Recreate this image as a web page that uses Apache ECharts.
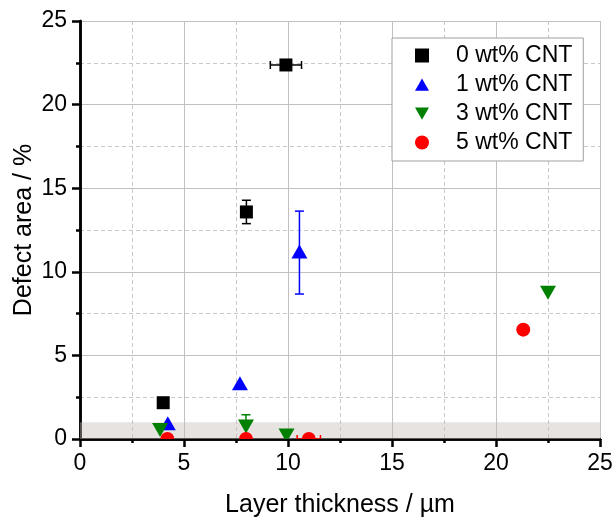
<!DOCTYPE html>
<html>
<head>
<meta charset="utf-8">
<script src="https://cdn.jsdelivr.net/npm/echarts@6/dist/echarts.min.js"></script>
<style>
  html, body { margin: 0; padding: 0; background: #fff; }
  #chart { width: 616px; height: 517px; }
</style>
</head>
<body>
<div id="chart"></div>
<script>
// series names
var seriesNames = ['0 wt% CNT', '1 wt% CNT', '3 wt% CNT', '5 wt% CNT'];

// 0 wt% CNT
var cnt0X = [4.0, 8.0, 9.9];
var cnt0Y = [2.17, 13.58, 22.37];
var cnt0XErr = [0, 0, 0.75];
var cnt0YErr = [0, 0.7, 0];

// 1 wt% CNT
var cnt1X = [4.22, 7.69, 10.55];
var cnt1Y = [0.88, 3.28, 11.15];
var cnt1XErr = [0, 0, 0];
var cnt1YErr = [0, 0, 2.48];

// 3 wt% CNT
var cnt3X = [3.85, 7.98, 9.93, 22.5];
var cnt3Y = [0.6, 0.8, 0.27, 8.8];
var cnt3XErr = [0, 0, 0, 0];
var cnt3YErr = [0, 0.65, 0, 0];

// 5 wt% CNT
var cnt5X = [4.2, 7.98, 11.0, 21.31];
var cnt5Y = [0, 0, 0, 6.54];
var cnt5XErr = [0, 0, 0.56, 0];
var cnt5YErr = [0, 0, 0, 0];

// shaded band (y range)
var bandY = [0, 1];

var xTicks = [0, 5, 10, 15, 20, 25];

var font = "'Liberation Sans', Arial, sans-serif";

function zip(xs, ys, xe, ye) {
    var out = [];
    for (var i = 0; i < xs.length; i++) {
        out.push([xs[i], ys[i], xe[i], ye[i]]);
    }
    return out;
}

// draws error bars + marker for one point
function makeRender(shape, color) {
    return function (params, api) {
        var x = api.value(0), y = api.value(1);
        var xe = api.value(2), ye = api.value(3);
        var c = api.coord([x, y]);
        var kids = [];
        var ls = { stroke: color, lineWidth: 1.5 };
        if (ye > 0) {
            var t = api.coord([x, y + ye]);
            var b = api.coord([x, y - ye]);
            kids.push({ type: 'line', shape: { x1: c[0], y1: t[1], x2: c[0], y2: b[1] }, style: ls });
            kids.push({ type: 'line', shape: { x1: c[0] - 4.5, y1: t[1], x2: c[0] + 4.5, y2: t[1] }, style: ls });
            kids.push({ type: 'line', shape: { x1: c[0] - 4.5, y1: b[1], x2: c[0] + 4.5, y2: b[1] }, style: ls });
        }
        if (xe > 0) {
            var l = api.coord([x - xe, y]);
            var r = api.coord([x + xe, y]);
            kids.push({ type: 'line', shape: { x1: l[0], y1: c[1], x2: r[0], y2: c[1] }, style: ls });
            kids.push({ type: 'line', shape: { x1: l[0], y1: c[1] - 4, x2: l[0], y2: c[1] + 4 }, style: ls });
            kids.push({ type: 'line', shape: { x1: r[0], y1: c[1] - 4, x2: r[0], y2: c[1] + 4 }, style: ls });
        }
        var fill = { fill: color };
        if (shape === 'square') {
            kids.push({ type: 'rect', shape: { x: c[0] - 6.5, y: c[1] - 6.5, width: 13, height: 13 }, style: fill });
        } else if (shape === 'up') {
            kids.push({ type: 'polygon', shape: { points: [[c[0], c[1] - 8], [c[0] + 8, c[1] + 6], [c[0] - 8, c[1] + 6]] }, style: fill });
        } else if (shape === 'down') {
            kids.push({ type: 'polygon', shape: { points: [[c[0] - 8, c[1] - 6], [c[0] + 8, c[1] - 6], [c[0], c[1] + 8]] }, style: fill });
        } else {
            kids.push({ type: 'circle', shape: { cx: c[0], cy: c[1], r: 7 }, style: fill });
        }
        return { type: 'group', children: kids };
    };
}

function bandRender(params, api) {
    var p0 = api.coord([0, bandY[0]]);
    var p1 = api.coord([25, bandY[1]]);
    return {
        type: 'rect',
        shape: { x: p0[0], y: p1[1], width: p1[0] - p0[0], height: p0[1] - p1[1] },
        style: { fill: 'rgba(196,188,180,0.42)' }
    };
}

var axisLineStyle = { color: '#000', width: 2.5 };

var myChart = echarts.init(document.getElementById('chart'));
myChart.setOption({
    animation: false,
    textStyle: { fontFamily: font },
    grid: { left: 80, right: 16, top: 21, bottom: 78, outerBoundsMode: 'none' },
    legend: {
        orient: 'vertical',
        left: 392,
        top: 38,
        padding: [6, 11, 7, 23],
        itemGap: 6,
        itemWidth: 14,
        itemHeight: 14,
        backgroundColor: '#fff',
        borderColor: '#a0a0a0',
        borderWidth: 1,
        z: 10,
        textStyle: { fontSize: 23, color: '#000', fontFamily: font, lineHeight: 23, padding: [0, 0, 0, 22] },
        data: [
            { name: seriesNames[0], icon: 'path://M0,0L13,0L13,13L0,13Z' },
            { name: seriesNames[1], icon: 'path://M8,0L16,14L0,14Z' },
            { name: seriesNames[2], icon: 'path://M0,0L16,0L8,14Z' },
            { name: seriesNames[3], icon: 'circle' }
        ]
    },
    xAxis: [{
        type: 'value',
        min: 0, max: 25, interval: 5,
        name: 'Layer thickness / µm',
        nameLocation: 'middle',
        nameGap: 54,
        nameMoveOverlap: false,
        nameTextStyle: { fontSize: 25, color: '#000', fontFamily: font },
        axisLine: { show: true, lineStyle: axisLineStyle },
        axisTick: { show: true, length: 8, lineStyle: axisLineStyle },
        minorTick: { show: true, splitNumber: 2, length: 4, lineStyle: axisLineStyle },
        axisLabel: { fontSize: 23, color: '#000', margin: 13, fontFamily: font,
            customValues: xTicks },
        splitLine: { show: true, lineStyle: { color: '#c0c0c0', width: 1 } },
        minorSplitLine: { show: true, lineStyle: { color: '#c8c8c8', width: 1, type: [4, 3] } }
    }, {
        type: 'value',
        position: 'top',
        min: 0, max: 25, interval: 5,
        axisLine: { show: true, lineStyle: axisLineStyle },
        axisTick: { show: true, inside: true, length: 8, lineStyle: axisLineStyle },
        minorTick: { show: true, splitNumber: 2, length: 4, lineStyle: axisLineStyle },
        axisLabel: { show: false },
        splitLine: { show: false }
    }],
    yAxis: [{
        type: 'value',
        min: 0, max: 25, interval: 5,
        name: 'Defect area / %',
        nameLocation: 'middle',
        nameGap: 43,
        nameMoveOverlap: false,
        nameTextStyle: { fontSize: 25, color: '#000', fontFamily: font },
        axisLine: { show: true, lineStyle: axisLineStyle },
        axisTick: { show: true, length: 8, lineStyle: axisLineStyle },
        minorTick: { show: true, splitNumber: 2, length: 4, lineStyle: axisLineStyle },
        axisLabel: { fontSize: 23, color: '#000', margin: 13, fontFamily: font },
        splitLine: { show: true, lineStyle: { color: '#c0c0c0', width: 1 } },
        minorSplitLine: { show: true, lineStyle: { color: '#c8c8c8', width: 1, type: [4, 3] } }
    }, {
        type: 'value',
        position: 'right',
        min: 0, max: 25, interval: 5,
        axisLine: { show: true, lineStyle: axisLineStyle },
        axisTick: { show: true, inside: true, length: 8, lineStyle: axisLineStyle },
        minorTick: { show: true, splitNumber: 2, length: 4, lineStyle: axisLineStyle },
        axisLabel: { show: false },
        splitLine: { show: false }
    }],
    series: [{
        name: 'band',
        type: 'custom',
        silent: true,
        z: 1,
        renderItem: bandRender,
        data: [[0, bandY[0]]]
    }, {
        name: seriesNames[0],
        type: 'custom',
        clip: true,
        itemStyle: { color: '#000000' },
        renderItem: makeRender('square', '#000000'),
        encode: { x: 0, y: 1 },
        data: zip(cnt0X, cnt0Y, cnt0XErr, cnt0YErr)
    }, {
        name: seriesNames[1],
        type: 'custom',
        clip: true,
        itemStyle: { color: '#0000ff' },
        renderItem: makeRender('up', '#0000ff'),
        encode: { x: 0, y: 1 },
        data: zip(cnt1X, cnt1Y, cnt1XErr, cnt1YErr)
    }, {
        name: seriesNames[2],
        type: 'custom',
        clip: true,
        itemStyle: { color: '#008000' },
        renderItem: makeRender('down', '#008000'),
        encode: { x: 0, y: 1 },
        data: zip(cnt3X, cnt3Y, cnt3XErr, cnt3YErr)
    }, {
        name: seriesNames[3],
        type: 'custom',
        clip: true,
        itemStyle: { color: '#ff0000' },
        renderItem: makeRender('circle', '#ff0000'),
        encode: { x: 0, y: 1 },
        data: zip(cnt5X, cnt5Y, cnt5XErr, cnt5YErr)
    }]
});
window.addEventListener('resize', function () {
    myChart.resize();
});
</script>
</body>
</html>
